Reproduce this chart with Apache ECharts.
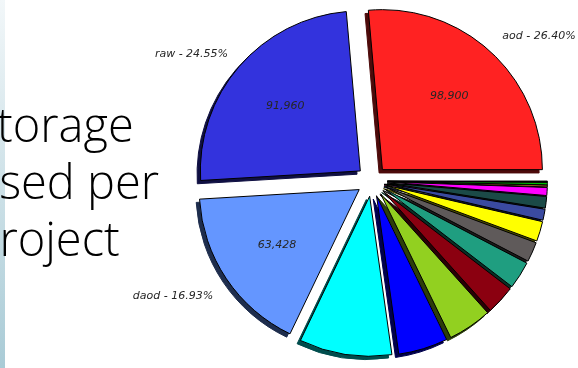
<!DOCTYPE html>
<html><head><meta charset="utf-8">
<script src="https://cdn.jsdelivr.net/npm/echarts@6/dist/echarts.min.js"></script>
<style>html,body{margin:0;padding:0;background:#fff}#c{width:578px;height:368px}</style>
</head><body><div id="c"></div>
<script>
const categories = ['aod','raw','daod','ntup','esd','hits','evnt','rdo','dpd','log','tag','desd','hist','user','txt','misc'];
const values = [98900,91960,63428,35000,18730,16630,10940,10410,7490,7490,4160,4380,3030,710,940,410];
const colors = ['#ff2222','#3333dd','#6496ff','#00ffff','#0000ff','#92d020','#8b0010','#1f9e80','#5f5a5a','#ffff00','#3a4aa0','#1b4a47','#ff00ff','#cc7733','#00c000','#000000'];
const labeled = ['aod','raw','daod'];
const titleLines = ['Storage','used per','project'];

const total = values.reduce((a,b)=>a+b,0);
function darken(hex, f){
  const n = parseInt(hex.slice(1),16);
  const r = Math.round(((n>>16)&255)*f), g = Math.round(((n>>8)&255)*f), b = Math.round((n&255)*f);
  return 'rgb('+r+','+g+','+b+')';
}
const CX = 372, CY = 181, R = 160, OFF = 15.4, SH = 3.3;
// nudges of the outer labels (style only)
const labelNudge = {aod:[1,-4], raw:[1,-2], daod:[0,8]};

const shadowData = categories.map((c,i)=>({name:c, value:values[i], selected:true,
  itemStyle:{color:darken(colors[i],0.3), borderColor:darken(colors[i],0.3), borderWidth:1}}));
const mainData = categories.map((c,i)=>({name:c, value:values[i], selected:true,
  itemStyle:{color:colors[i]},
  label:{show: labeled.indexOf(c)>=0}}));
const valData = categories.map((c,i)=>({name:c, value:values[i], selected:true,
  label:{show: labeled.indexOf(c)>=0}}));

const common = {type:'pie', startAngle:0, clockwise:false, selectedMode:'multiple', selectedOffset:OFF,
  avoidLabelOverlap:false, animation:false, silent:true, emphasis:{disabled:true}};

const chart = echarts.init(document.getElementById('c'), null, {renderer:'canvas'});
chart.setOption({
  backgroundColor:'#ffffff',
  animation:false,
  graphic:[
    {type:'rect', left:0, top:0, shape:{width:5, height:368}, style:{fill:new echarts.graphic.LinearGradient(0,0,0,1,[{offset:0,color:'#f2f7f9'},{offset:1,color:'#a9cbd6'}])}, z:0},
    ...titleLines.map((t,i)=>({type:'text', x:-28.6, y:128.5+i*57, z:10,
      style:{text:t, font:'300 47px "Open Sans"', fill:'#000', verticalAlign:'middle', textAlign:'left'}}))
  ],
  series:[
    Object.assign({}, common, {name:'shadow', center:[CX-SH, CY+SH], radius:R, data:shadowData, label:{show:false}, labelLine:{show:false}, z:1}),
    Object.assign({}, common, {name:'main', center:[CX, CY], radius:R, data:mainData, z:2,
      itemStyle:{borderColor:'#000', borderWidth:1},
      label:{position:'outside', distanceToLabelLine:0, fontFamily:'DejaVu Sans', fontStyle:'italic', fontSize:11, color:'#262626',
        formatter:p=>p.name+' - '+(p.value/total*100).toFixed(2)+'%'},
      labelLine:{show:false, length:R*0.1, length2:0},
      labelLayout:p=>{const n=labelNudge[categories[p.dataIndex]]; return n?{dx:n[0],dy:n[1]}:{};}}),
    Object.assign({}, common, {name:'values', center:[CX, CY], radius:R*1.2, data:valData, z:3,
      itemStyle:{color:'rgba(0,0,0,0)', borderWidth:0},
      label:{position:'inside', fontFamily:'DejaVu Sans', fontStyle:'italic', fontSize:11, color:'#262626', rotate:0,
        formatter:p=>p.value.toLocaleString('en-US')},
      labelLine:{show:false}})
  ]
});
</script></body></html>
